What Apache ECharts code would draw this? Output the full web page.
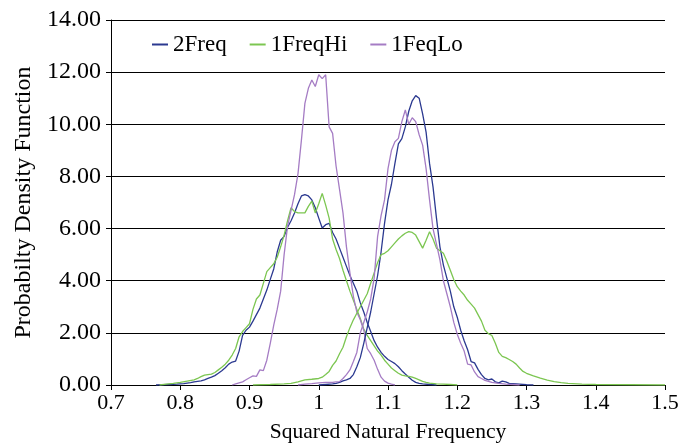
<!DOCTYPE html>
<html><head><meta charset="utf-8">
<script src="https://cdn.jsdelivr.net/npm/echarts@6/dist/echarts.min.js"></script>
<style>html,body{margin:0;padding:0;background:#fff}#c{width:682px;height:446px}</style>
</head><body><div id="c"></div>
<script>
const seriesNames = ['2Freq', '1FreqHi', '1FeqLo'];
const xTicks = [0.7, 0.8, 0.9, 1.0, 1.1, 1.2, 1.3, 1.4, 1.5];
const yTicks = [0, 2, 4, 6, 8, 10, 12, 14];

// 2Freq – first (lower) mode
const freq2Low = [[0.765,0],[0.775,0.01],[0.785,0.02],[0.795,0.03],[0.805,0.05],[0.815,0.09],[0.82,0.12],[0.825,0.14],[0.83,0.16],[0.835,0.2],[0.84,0.25],[0.845,0.3],[0.85,0.36],[0.855,0.45],[0.86,0.55],[0.865,0.66],[0.87,0.8],[0.875,0.88],[0.88,0.92],[0.885,1.3],[0.89,1.9],[0.895,2.1],[0.9,2.22],[0.905,2.45],[0.91,2.7],[0.915,2.95],[0.92,3.3],[0.925,3.64],[0.93,4.05],[0.935,4.45],[0.94,5.1],[0.945,5.55],[0.95,5.7],[0.955,6.05],[0.96,6.3],[0.965,6.6],[0.97,6.95],[0.975,7.25],[0.98,7.3],[0.985,7.25],[0.99,7.1],[0.995,6.8],[1.0,6.4],[1.005,6.02],[1.01,6.15],[1.015,6.2],[1.02,5.85],[1.025,5.6],[1.03,5.25],[1.035,4.9],[1.04,4.55],[1.045,4.2],[1.05,3.9],[1.055,3.6],[1.06,3.15],[1.065,2.8],[1.07,2.4],[1.075,2.05],[1.08,1.7],[1.085,1.45],[1.09,1.25],[1.095,1.1],[1.1,0.98],[1.105,0.9],[1.11,0.82],[1.115,0.7],[1.12,0.55],[1.125,0.42],[1.13,0.3],[1.135,0.18],[1.14,0.1],[1.145,0.06],[1.15,0.04],[1.16,0.02],[1.17,0]];
// 2Freq – second (higher) mode
const freq2High = [[1.0,0],[1.01,0.02],[1.02,0.04],[1.025,0.06],[1.03,0.1],[1.035,0.16],[1.04,0.2],[1.045,0.25],[1.05,0.4],[1.055,0.7],[1.06,1.05],[1.065,1.6],[1.07,2.2],[1.075,2.8],[1.08,3.5],[1.085,4.2],[1.09,5.1],[1.095,6.2],[1.1,7.1],[1.105,7.7],[1.11,8.5],[1.115,9.25],[1.12,9.45],[1.125,9.9],[1.13,10.5],[1.135,10.9],[1.14,11.1],[1.145,11.0],[1.15,10.4],[1.155,9.7],[1.16,8.5],[1.165,7.6],[1.17,6.4],[1.175,5.3],[1.18,4.6],[1.185,4.1],[1.19,3.6],[1.195,3.0],[1.2,2.6],[1.205,2.1],[1.21,1.7],[1.215,1.35],[1.22,0.9],[1.225,0.85],[1.23,0.6],[1.235,0.4],[1.24,0.25],[1.245,0.2],[1.25,0.23],[1.255,0.12],[1.26,0.08],[1.265,0.15],[1.27,0.12],[1.275,0.06],[1.28,0.05],[1.29,0.03],[1.3,0.01],[1.31,0]];
// 1FreqHi – first mode
const hiLow = [[0.77,0],[0.78,0.03],[0.79,0.06],[0.8,0.1],[0.81,0.15],[0.82,0.2],[0.825,0.25],[0.83,0.32],[0.835,0.38],[0.84,0.4],[0.845,0.42],[0.85,0.48],[0.855,0.58],[0.86,0.68],[0.865,0.8],[0.87,0.95],[0.875,1.15],[0.88,1.4],[0.885,1.85],[0.89,2.05],[0.895,2.2],[0.9,2.35],[0.905,2.9],[0.91,3.3],[0.915,3.45],[0.92,3.9],[0.925,4.35],[0.93,4.5],[0.935,4.65],[0.94,4.9],[0.945,5.3],[0.95,5.75],[0.955,6.3],[0.96,6.8],[0.965,6.65],[0.97,6.6],[0.975,6.6],[0.98,6.6],[0.985,6.85],[0.99,7.05],[0.995,6.6],[1.0,6.95],[1.005,7.35],[1.01,6.9],[1.015,6.4],[1.02,5.6],[1.025,5.2],[1.03,4.85],[1.035,4.4],[1.04,4.0],[1.045,3.6],[1.05,3.25],[1.055,2.9],[1.06,2.55],[1.065,2.15],[1.07,1.9],[1.075,1.7],[1.08,1.5],[1.085,1.3],[1.09,1.15],[1.095,0.95],[1.1,0.8],[1.105,0.65],[1.11,0.55],[1.115,0.45],[1.12,0.38],[1.125,0.35],[1.13,0.33],[1.135,0.3],[1.14,0.25],[1.145,0.2],[1.15,0.14],[1.155,0.1],[1.16,0.07],[1.17,0.04],[1.18,0.03],[1.19,0.02],[1.2,0]];
// 1FreqHi – second mode
const hiHigh = [[0.905,0],[0.93,0.02],[0.95,0.04],[0.96,0.06],[0.97,0.12],[0.98,0.2],[0.99,0.22],[1.0,0.25],[1.005,0.3],[1.01,0.4],[1.015,0.52],[1.02,0.75],[1.025,0.92],[1.03,1.2],[1.035,1.45],[1.04,1.85],[1.045,2.2],[1.05,2.5],[1.055,2.75],[1.06,3.0],[1.065,3.25],[1.07,3.5],[1.075,3.9],[1.08,4.3],[1.085,4.7],[1.09,5.0],[1.095,5.05],[1.1,5.15],[1.105,5.3],[1.11,5.45],[1.115,5.6],[1.12,5.72],[1.125,5.82],[1.13,5.88],[1.135,5.85],[1.14,5.75],[1.145,5.5],[1.15,5.25],[1.155,5.55],[1.16,5.88],[1.165,5.6],[1.17,5.25],[1.175,5.15],[1.18,5.05],[1.185,4.75],[1.19,4.4],[1.195,4.05],[1.2,3.77],[1.205,3.6],[1.21,3.45],[1.215,3.25],[1.22,3.1],[1.225,2.95],[1.23,2.7],[1.235,2.45],[1.24,2.1],[1.245,1.97],[1.25,1.9],[1.255,1.6],[1.26,1.25],[1.265,1.1],[1.27,1.05],[1.275,0.98],[1.28,0.9],[1.285,0.8],[1.29,0.65],[1.295,0.52],[1.3,0.45],[1.31,0.35],[1.32,0.26],[1.33,0.19],[1.34,0.13],[1.35,0.09],[1.36,0.06],[1.38,0.03],[1.4,0.02],[1.45,0.01],[1.5,0]];
// 1FeqLo – first mode
const loLow = [[0.875,0],[0.88,0.04],[0.885,0.08],[0.89,0.12],[0.895,0.2],[0.9,0.28],[0.905,0.35],[0.91,0.33],[0.915,0.58],[0.92,0.55],[0.925,0.95],[0.93,1.6],[0.935,2.3],[0.94,2.9],[0.945,3.6],[0.95,5.0],[0.955,6.1],[0.96,6.7],[0.965,7.3],[0.97,8.1],[0.975,9.4],[0.98,10.8],[0.985,11.38],[0.99,11.7],[0.995,11.45],[1.0,11.9],[1.005,11.75],[1.01,11.9],[1.015,9.9],[1.02,9.65],[1.025,8.4],[1.03,7.5],[1.035,6.6],[1.04,5.3],[1.045,4.3],[1.05,3.4],[1.055,2.8],[1.06,2.5],[1.065,2.1],[1.07,1.4],[1.075,1.2],[1.08,0.95],[1.085,0.6],[1.09,0.3],[1.095,0.15],[1.1,0.07],[1.105,0.03],[1.11,0]];
// 1FeqLo – second mode
const loHigh = [[0.97,0],[0.98,0.03],[0.99,0.05],[1.0,0.08],[1.01,0.1],[1.02,0.1],[1.025,0.12],[1.03,0.13],[1.035,0.25],[1.04,0.4],[1.045,0.58],[1.05,0.9],[1.055,1.25],[1.06,2.0],[1.065,2.4],[1.07,2.8],[1.075,3.3],[1.08,4.1],[1.085,5.7],[1.09,6.5],[1.095,7.1],[1.1,8.3],[1.105,9.0],[1.11,9.33],[1.115,9.46],[1.12,10.1],[1.125,10.55],[1.13,10.0],[1.135,10.25],[1.14,10.1],[1.145,9.6],[1.15,9.2],[1.155,8.3],[1.16,7.1],[1.165,6.0],[1.17,5.4],[1.175,4.8],[1.18,4.0],[1.185,3.5],[1.19,3.0],[1.195,2.4],[1.2,1.95],[1.205,1.6],[1.21,1.3],[1.215,0.8],[1.22,0.77],[1.225,0.5],[1.23,0.32],[1.235,0.25],[1.24,0.18],[1.25,0.1],[1.26,0.06],[1.27,0.03],[1.28,0.02],[1.29,0]];

const colors = {'2Freq': '#2B3990', '1FreqHi': '#7CC651', '1FeqLo': '#A57CC4'};
const font = 'Liberation Serif';

function lineSeries(name, data) {
  return {
    name: name, type: 'line', data: data, showSymbol: false, symbol: 'none',
    lineStyle: {color: colors[name], width: 1.3}, itemStyle: {color: colors[name]},
    animation: false
  };
}

const chart = echarts.init(document.getElementById('c'), null, {renderer: 'canvas'});
chart.setOption({
  backgroundColor: '#fff',
  animation: false,
  grid: {left: 111, right: 17, top: 20, bottom: 61, containLabel: false, outerBoundsMode: 'none'},
  legend: {
    data: seriesNames, left: 147, top: 28, icon: 'rect', itemWidth: 16, itemHeight: 2,
    itemGap: 23, textStyle: {fontFamily: font, fontSize: 23, color: '#000'}
  },
  xAxis: {
    type: 'value', min: xTicks[0], max: xTicks[xTicks.length - 1], interval: 0.1,
    name: 'Squared Natural Frequency', nameLocation: 'middle', nameGap: 36,
    nameTextStyle: {fontFamily: font, fontSize: 21.5, color: '#000'},
    axisLine: {show: true, lineStyle: {color: '#000', width: 1}},
    axisTick: {show: true, inside: false, length: 5, lineStyle: {color: '#000'}},
    axisLabel: {fontFamily: font, fontSize: 22, color: '#000', margin: 7},
    splitLine: {show: false}
  },
  yAxis: {
    type: 'value', min: yTicks[0], max: yTicks[yTicks.length - 1], interval: 2,
    name: 'Probabilty Density Function', nameLocation: 'middle', nameGap: 75,
    nameTextStyle: {fontFamily: font, fontSize: 24, color: '#000'},
    axisLine: {show: true, lineStyle: {color: '#000', width: 1}},
    axisTick: {show: true, inside: false, length: 5, lineStyle: {color: '#000'}},
    axisLabel: {fontFamily: font, fontSize: 24, color: '#000', margin: 10,
      formatter: v => v.toFixed(2)},
    splitLine: {show: true, lineStyle: {color: '#000', width: 1}}
  },
  series: [
    lineSeries('2Freq', freq2Low), lineSeries('1FreqHi', hiLow), lineSeries('1FeqLo', loLow),
    lineSeries('2Freq', freq2High), lineSeries('1FreqHi', hiHigh), lineSeries('1FeqLo', loHigh)
  ]
});
</script></body></html>
